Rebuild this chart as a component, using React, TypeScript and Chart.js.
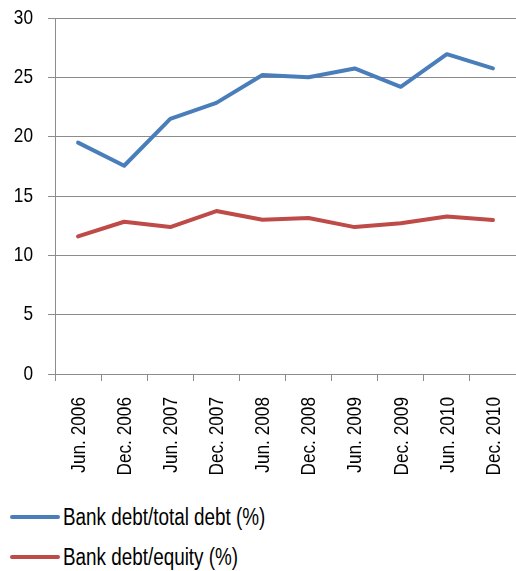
import React, { useEffect, useRef } from "react";
import { Chart, registerables } from "chart.js";

Chart.register(...registerables);

const categories = [
  "Jun. 2006", "Dec. 2006", "Jun. 2007", "Dec. 2007", "Jun. 2008",
  "Dec. 2008", "Jun. 2009", "Dec. 2009", "Jun. 2010", "Dec. 2010",
];
const bankDebtTotalDebt = [19.5, 17.55, 21.5, 22.85, 25.2, 25.0, 25.75, 24.2, 26.95, 25.75];
const bankDebtEquity = [11.6, 12.83, 12.38, 13.73, 13.0, 13.14, 12.38, 12.7, 13.28, 12.97];
const seriesNames = ["Bank debt/total debt (%)", "Bank debt/equity (%)"];
const yTicks = [0, 5, 10, 15, 20, 25, 30];

const BLUE = "#4a7ebb";
const RED = "#be4b48";
const GRID = "#8c8c8c";
const FONT = "'Liberation Sans', Arial, sans-serif";
const NARROW = 0.82;

// Draws tick labels in a narrow (horizontally condensed) face, positioned from the scales.
const narrowLabels = {
  id: "narrowLabels",
  afterDraw(chart: any) {
    const ctx = chart.ctx as CanvasRenderingContext2D;
    const xs = chart.scales.x;
    const ys = chart.scales.y;
    ctx.save();
    ctx.fillStyle = "#000";
    ctx.font = `21px ${FONT}`;
    ctx.textBaseline = "middle";
    ctx.textAlign = "right";
    ys.ticks.forEach((t: any) => {
      const py = ys.getPixelForValue(t.value);
      ctx.save();
      ctx.translate(ys.right - 22, py);
      ctx.scale(NARROW, 1);
      ctx.fillText(String(t.value), 0, 0);
      ctx.restore();
    });
    xs.ticks.forEach((t: any, i: number) => {
      const px = xs.getPixelForTick(i);
      ctx.save();
      ctx.translate(px + 1, xs.top + 23);
      ctx.rotate(-Math.PI / 2);
      ctx.scale(NARROW, 1);
      ctx.fillText(String(xs.getLabelForValue(t.value)), 0, 0);
      ctx.restore();
    });
    ctx.restore();
  },
};

export default function App() {
  const ref = useRef<HTMLCanvasElement | null>(null);

  useEffect(() => {
    if (!ref.current) return;
    const chart = new Chart(ref.current, {
      type: "line",
      data: {
        labels: categories,
        datasets: [
          {
            label: seriesNames[0],
            data: bankDebtTotalDebt,
            borderColor: BLUE,
            backgroundColor: BLUE,
            borderWidth: 4,
            pointRadius: 0,
            tension: 0,
            borderCapStyle: "round",
            borderJoinStyle: "round",
          },
          {
            label: seriesNames[1],
            data: bankDebtEquity,
            borderColor: RED,
            backgroundColor: RED,
            borderWidth: 4,
            pointRadius: 0,
            tension: 0,
            borderCapStyle: "round",
            borderJoinStyle: "round",
          },
        ],
      },
      options: {
        responsive: false,
        animation: false,
        layout: { padding: { top: 18, right: 0, left: 0, bottom: 0 } },
        plugins: { legend: { display: false }, tooltip: { enabled: false } },
        scales: {
          x: {
            offset: true,
            grid: {
              offset: true,
              drawOnChartArea: false,
              drawTicks: true,
              tickLength: 7,
              color: GRID,
            },
            border: { color: GRID, width: 1 },
            ticks: { display: false, autoSkip: false },
            afterFit: (s: any) => {
              s.height = 116;
            },
          },
          y: {
            min: 0,
            max: 30,
            afterBuildTicks: (s: any) => {
              s.ticks = yTicks.map((v) => ({ value: v }));
            },
            grid: { color: GRID, tickLength: 7, drawTicks: true },
            border: { color: GRID, width: 1 },
            ticks: { display: false },
            afterFit: (s: any) => {
              s.width = 55;
            },
          },
        },
      },
      plugins: [narrowLabels],
    });
    return () => chart.destroy();
  }, []);

  const legendItem = (color: string, text: string, y: number) => (
    <div style={{ position: "absolute", left: 0, top: y - 16, height: 32, display: "flex", alignItems: "center" }}>
      <div style={{ marginLeft: 10, width: 50, height: 4, borderRadius: 2, background: color }} />
      <span
        style={{
          marginLeft: 3,
          fontFamily: FONT,
          fontSize: 23,
          color: "#000",
          whiteSpace: "nowrap",
          display: "inline-block",
          transform: `scaleX(${NARROW})`,
          transformOrigin: "left center",
        }}
      >
        {text}
      </span>
    </div>
  );

  return (
    <div style={{ position: "fixed", left: 0, top: 0, width: 516, height: 571, background: "#fff", overflow: "hidden" }}>
      <canvas ref={ref} width={516} height={490} style={{ position: "absolute", left: 0, top: 0, width: 516, height: 490 }} />
      {legendItem(BLUE, seriesNames[0], 517)}
      {legendItem(RED, seriesNames[1], 557)}
    </div>
  );
}
